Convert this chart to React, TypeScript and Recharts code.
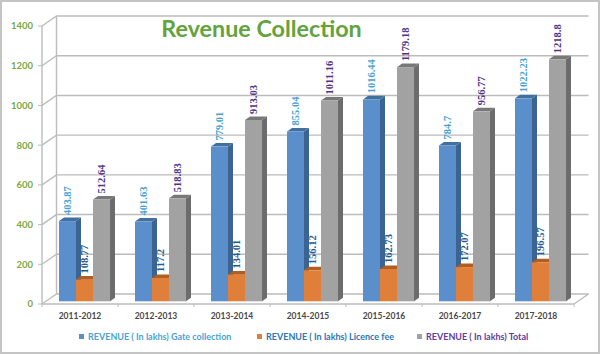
import React from 'react';
import { BarChart, Bar, XAxis, YAxis, CartesianGrid, Legend, LabelList } from 'recharts';

const years = ['2011-2012', '2012-2013', '2013-2014', '2014-2015', '2015-2016', '2016-2017', '2017-2018'];
const gateCollection = [403.87, 401.63, 779.01, 855.04, 1016.44, 784.7, 1022.23];
const licenceFee = [108.77, 117.2, 134.01, 156.12, 162.73, 172.07, 196.57];
const total = [512.64, 518.83, 913.03, 1011.16, 1179.18, 956.77, 1218.8];
const yTicks = [0, 200, 400, 600, 800, 1000, 1200, 1400];

const chartData = years.map((year, i) => ({
  year,
  gate: gateCollection[i],
  licence: licenceFee[i],
  total: total[i],
}));

const GRID = '#bcbcbc';
const FONT = 'Lato, sans-serif';

// fake 3D: walls sit behind the front plane by this much
const WALL_DX = 14.5;
const WALL_DY = -10;
// bars stand a bit inside the floor
const BAR_DX = 4;
const BAR_DY = -2.7;
const BAR_SIDE = 5;
const BAR_TOP = 3.6;

const box3d = (front: string, side: string, top: string) => (props: any) => {
  const { x, y, width, height } = props;
  const l = x + BAR_DX;
  const r = l + width;
  const t = y + BAR_DY;
  const b = t + height;
  return (
    <g>
      <polygon points={`${r},${t} ${r + BAR_SIDE},${t - BAR_TOP} ${r + BAR_SIDE},${b - BAR_TOP} ${r},${b}`} fill={side} />
      <polygon points={`${l},${t} ${l + BAR_SIDE},${t - BAR_TOP} ${r + BAR_SIDE},${t - BAR_TOP} ${r},${t}`} fill={top} />
      <rect x={l} y={t} width={width} height={height} fill={front} />
    </g>
  );
};

const upLabel = (color: string) => (props: any) => {
  const { x, y, width, value } = props;
  const cx = x + BAR_DX + width / 2;
  const by = y + BAR_DY - BAR_TOP - 2.5;
  return (
    <text
      x={cx}
      y={by}
      transform={`rotate(-90 ${cx} ${by})`}
      dominantBaseline="central"
      fill={color}
      fontSize={10.5}
      fontFamily='"Liberation Serif", serif'
      fontWeight={600}
    >
      {value}
    </text>
  );
};

const wallLine = (props: any) => {
  const { x1, y1, x2, y2 } = props;
  return (
    <path
      key={`h-${y1}`}
      d={`M${x1},${y1} L${x1 + WALL_DX},${y1 + WALL_DY} L${x2 + WALL_DX},${y2 + WALL_DY}`}
      fill="none"
      stroke={GRID}
      strokeWidth={1.4}
    />
  );
};

const backEdge = (props: any) => {
  const { x1, y1, x2, y2 } = props;
  return (
    <line
      key={`v-${x1}`}
      x1={x1 + WALL_DX}
      y1={y1 + WALL_DY}
      x2={x2 + WALL_DX}
      y2={y2 + WALL_DY}
      stroke={GRID}
      strokeWidth={1.4}
    />
  );
};

const floorCap = (props: any) => {
  const { x, y, payload, index } = props;
  const half = 38;
  return (
    <g>
      <line x1={x - half} y1={y - 8} x2={x - half} y2={y - 5} stroke={GRID} />
      {index === years.length - 1 && (
        <g>
          <line x1={x + half} y1={y - 8} x2={x + half} y2={y - 5} stroke={GRID} />
          <line x1={x + half} y1={y - 8} x2={x + half + WALL_DX} y2={y - 8 + WALL_DY} stroke={GRID} strokeWidth={1.4} />
        </g>
      )}
      <text x={x} y={y + 7} textAnchor="middle" fontSize={8.5} fontWeight={700} fontFamily={FONT} fill="#484848">
        {payload.value}
      </text>
    </g>
  );
};

const legendColors = ['#4ba3d3', '#2e75b6', '#5f3d9e'];
const legendStarts = [79, 257, 417];

const legendContent = (props: any) => (
  <div style={{ position: 'relative', height: 16 }}>
    {props.payload.map((entry: any, i: number) => (
      <div
        key={entry.value}
        style={{
          position: 'absolute',
          left: legendStarts[i],
          top: -5,
          whiteSpace: 'nowrap',
          fontFamily: FONT,
          fontSize: 9,
          fontWeight: 700,
          lineHeight: '16px',
          color: legendColors[i],
        }}
      >
        <span style={{ display: 'inline-block', width: 5, height: 5, background: entry.color, marginRight: 4, verticalAlign: 1 }} />
        {entry.value}
      </div>
    ))}
  </div>
);

export default function App() {
  return (
    <div
      style={{
        position: 'absolute',
        left: 0,
        top: 0,
        width: 600,
        height: 354,
        background: '#fff',
        boxShadow: 'inset 0 0 0 2px #c4c4c4',
      }}
    >
      <BarChart
        width={600}
        height={354}
        data={chartData}
        margin={{ top: 26, right: 26, bottom: 0, left: 0 }}
        barCategoryGap={13}
        barGap={0}
      >
        <CartesianGrid horizontal={wallLine} vertical={backEdge} verticalPoints={[42]} />
        <XAxis
          dataKey="year"
          height={30}
          interval={0}
          tick={floorCap}
          tickLine={false}
          axisLine={{ stroke: GRID, strokeWidth: 1.4 }}
        />
        <YAxis
          width={42}
          domain={[0, 1400]}
          ticks={yTicks}
          tickSize={4}
          tickMargin={5}
          tickLine={{ stroke: GRID }}
          axisLine={{ stroke: GRID, strokeWidth: 1.4 }}
          tick={{ fontSize: 9.5, fontWeight: 700, fontFamily: FONT, fill: '#7aa843' }}
        />
        <Legend height={20} verticalAlign="bottom" content={legendContent} />
        <Bar dataKey="gate" name="REVENUE ( In lakhs) Gate collection" fill="#5b8fcb" isAnimationActive={false} shape={box3d('#5b8fcb', '#3b6491', '#41709f')}>
          <LabelList dataKey="gate" content={upLabel('#45a2d2')} />
        </Bar>
        <Bar dataKey="licence" name="REVENUE ( In lakhs) Licence fee" fill="#e07f3a" isAnimationActive={false} shape={box3d('#e07f3a', '#b25e22', '#b25e22')}>
          <LabelList dataKey="licence" content={upLabel('#28598f')} />
        </Bar>
        <Bar dataKey="total" name="REVENUE ( In lakhs) Total" fill="#a2a2a2" isAnimationActive={false} shape={box3d('#a2a2a2', '#6c6c6c', '#787878')}>
          <LabelList dataKey="total" content={upLabel('#4f3488')} />
        </Bar>
        <text x={261.5} y={28} textAnchor="middle" dominantBaseline="central" fontSize={23.3} fontWeight={700} fontFamily={FONT} fill="#62a33c">
          Revenue Collection
        </text>
      </BarChart>
    </div>
  );
}
